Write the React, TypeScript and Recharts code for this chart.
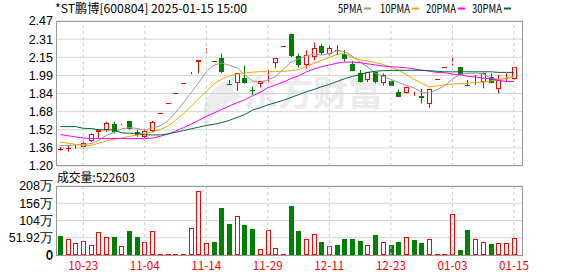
import React from "react";
import { ComposedChart, Bar, Line, XAxis, YAxis, CartesianGrid, ReferenceLine } from "recharts";

// 交易日
const dates = [
  "10-18", "10-21", "10-22", "10-23", "10-24", "10-25", "10-28", "10-29", "10-30", "10-31",
  "11-01", "11-04", "11-05", "11-06", "11-07", "11-08", "11-11", "11-12", "11-13", "11-14",
  "11-20", "11-21", "11-22", "11-25", "11-26", "11-27", "11-28", "11-29", "12-02", "12-03",
  "12-04", "12-05", "12-06", "12-09", "12-10", "12-11", "12-12", "12-13", "12-16", "12-17",
  "12-18", "12-19", "12-20", "12-23", "12-24", "12-25", "12-26", "12-27", "12-30", "12-31",
  "01-02", "01-03", "01-06", "01-07", "01-08", "01-09", "01-10", "01-13", "01-14", "01-15",
];

const openPrices = [
  1.348, 1.355, 1.362, 1.367, 1.417, 1.499, 1.511, 1.566, 1.563, 1.596,
  1.499, 1.455, 1.505, 1.666, 1.749, 1.836, 1.928, 2.016, 2.11, 2.225,
  2.12, 2.149, 1.921, 1.924, 1.974, 1.862, 1.915, 2.03, 2.099, 2.25,
  2.36, 2.167, 2.085, 2.158, 2.255, 2.184, 2.216, 2.179, 2.091, 2.011,
  1.956, 2.026, 1.924, 1.947, 1.851, 1.836, 1.815, 1.815, 1.739, 1.965,
  2.063, 2.1, 2.064, 1.909, 1.99, 1.938, 1.976, 1.874, 1.955, 1.962,
];
const highPrices = [
  1.366, 1.38, 1.382, 1.426, 1.484, 1.52, 1.587, 1.587, 1.57, 1.596,
  1.52, 1.52, 1.596, 1.666, 1.749, 1.836, 1.928, 2.024, 2.125, 2.231,
  2.12, 2.184, 1.953, 2.011, 2.079, 1.894, 1.945, 2.041, 2.143, 2.25,
  2.36, 2.184, 2.214, 2.281, 2.267, 2.255, 2.26, 2.217, 2.12, 2.041,
  2.02, 2.026, 2.011, 1.947, 1.871, 1.895, 1.851, 1.874, 1.874, 1.965,
  2.063, 2.166, 2.064, 1.953, 1.997, 2.017, 2.011, 1.997, 2.011, 2.064,
];
const lowPrices = [
  1.333, 1.325, 1.35, 1.352, 1.41, 1.44, 1.5, 1.485, 1.558, 1.52,
  1.455, 1.446, 1.494, 1.666, 1.749, 1.836, 1.928, 2.003, 2.011, 2.187,
  2.12, 2.015, 1.919, 1.857, 1.92, 1.821, 1.889, 1.933, 2.054, 2.25,
  2.152, 2.062, 2.054, 2.128, 2.173, 2.164, 2.173, 2.114, 2.03, 1.93,
  1.935, 1.924, 1.903, 1.9, 1.807, 1.836, 1.815, 1.748, 1.71, 1.965,
  2.063, 2.079, 2.0, 1.903, 1.909, 1.88, 1.924, 1.836, 1.938, 1.956,
];
const closePrices = [
  1.353, 1.36, 1.37, 1.405, 1.478, 1.511, 1.578, 1.499, 1.566, 1.528,
  1.475, 1.505, 1.587, 1.666, 1.749, 1.836, 1.928, 2.024, 2.125, 2.231,
  2.12, 2.02, 1.919, 2.011, 1.924, 1.855, 1.945, 2.041, 2.143, 2.25,
  2.167, 2.085, 2.173, 2.237, 2.193, 2.237, 2.21, 2.135, 2.032, 1.933,
  2.02, 1.938, 1.997, 1.9, 1.807, 1.895, 1.821, 1.792, 1.874, 1.965,
  2.063, 2.114, 2.0, 1.903, 1.997, 2.017, 1.924, 1.953, 1.96, 2.064,
];
// 前一交易日收盘（图外）
const priorClose = 1.37;

// 成交量（万股）
const volumes = [
  57.2, 47.2, 35.1, 42.1, 29.1, 69.2, 53.2, 54.2, 26.1, 72.2,
  54.2, 39.1, 71.2, 2, 2, 2, 2, 81.3, 192.6, 36.1,
  40.1, 141.5, 94.3, 117.4, 91.3, 79.3, 18.1, 75.2, 21.1, 2,
  148.5, 73.2, 48.2, 63.2, 40.1, 27.1, 30.1, 48.2, 48.2, 43.1,
  30.1, 60.2, 39.1, 30.1, 40.1, 53.2, 45.1, 37.1, 47.2, 2,
  2, 123.4, 15, 75.2, 47.2, 39.1, 33.1, 36.1, 36.1, 52.26,
];

const ma5 = [
  1.38, 1.38, 1.385, 1.39, 1.395, 1.425, 1.468, 1.494, 1.526, 1.536,
  1.529, 1.515, 1.532, 1.552, 1.596, 1.669, 1.753, 1.84, 1.93, 2.027,
  2.084, 2.102, 2.082, 2.06, 1.999, 1.946, 1.931, 1.955, 1.983, 2.048,
  2.11, 2.138, 2.165, 2.182, 2.171, 2.185, 2.21, 2.202, 2.161, 2.109,
  2.066, 2.012, 1.984, 1.958, 1.932, 1.907, 1.884, 1.843, 1.838, 1.869,
  1.903, 1.962, 2.003, 2.009, 2.015, 2.006, 1.968, 1.959, 1.97, 1.984,
];
const ma10 = [
  1.41, 1.4, 1.39, 1.38, 1.38, 1.4, 1.42, 1.435, 1.445, 1.46,
  1.47, 1.485, 1.5, 1.52, 1.55, 1.6, 1.66, 1.72, 1.79, 1.85,
  1.92, 1.96, 1.99, 2.005, 2.015, 2.022, 2.026, 2.026, 2.026, 2.03,
  2.035, 2.045, 2.07, 2.1, 2.125, 2.15, 2.178, 2.184, 2.15, 2.13,
  2.12, 2.105, 2.09, 2.065, 2.04, 2.0, 1.96, 1.925, 1.895, 1.9,
  1.912, 1.918, 1.922, 1.925, 1.93, 1.935, 1.945, 1.955, 1.967, 1.98,
];
const ma20 = [
  1.475, 1.465, 1.455, 1.445, 1.44, 1.44, 1.44, 1.44, 1.44, 1.44,
  1.44, 1.44, 1.445, 1.46, 1.48, 1.505, 1.535, 1.565, 1.6, 1.635,
  1.665, 1.695, 1.725, 1.755, 1.78, 1.815, 1.845, 1.885, 1.91, 1.935,
  1.965, 1.99, 2.025, 2.05, 2.07, 2.085, 2.1, 2.11, 2.11, 2.105,
  2.095, 2.085, 2.075, 2.07, 2.065, 2.06, 2.05, 2.04, 2.03, 2.02,
  2.017, 2.005, 2.0, 1.985, 1.98, 1.968, 1.965, 1.95, 1.94, 1.94,
];
const ma30 = [
  1.545, 1.545, 1.545, 1.53, 1.528, 1.518, 1.516, 1.516, 1.49, 1.487,
  1.486, 1.473, 1.472, 1.472, 1.48, 1.495, 1.51, 1.525, 1.54, 1.555,
  1.565, 1.58, 1.6, 1.625, 1.65, 1.69, 1.71, 1.735, 1.755, 1.775,
  1.8, 1.825, 1.85, 1.87, 1.895, 1.915, 1.94, 1.965, 1.985, 2.0,
  2.02, 2.03, 2.035, 2.038, 2.038, 2.038, 2.038, 2.038, 2.035, 2.03,
  2.025, 2.025, 2.025, 2.025, 2.025, 2.025, 2.025, 2.02, 2.02, 2.02,
];

const priceMin = 1.2;
const priceMax = 2.47;
const priceTickLabels = ["1.20", "1.36", "1.52", "1.68", "1.84", "1.99", "2.15", "2.31", "2.47"];
const volumeMax = 207.68;
const volumeTickLabels = ["0", "51.92万", "104万", "156万", "208万"];
const labelDates = ["10-23", "11-04", "11-14", "11-29", "12-11", "12-23", "01-03", "01-15"];

const RED = "#ff0000";
const GREEN = "#008000";
const GRID = "#d4d4d4";
const FONT = "'Noto Sans CJK SC', sans-serif";
const NUM_FONT = "'Liberation Sans', Arial, sans-serif";

const rows = dates.map((date, i) => ({
  idx: i + 1,
  date,
  open: openPrices[i],
  high: highPrices[i],
  low: lowPrices[i],
  close: closePrices[i],
  prev: i === 0 ? priorClose : closePrices[i - 1],
  range: [lowPrices[i], highPrices[i]],
  vol: volumes[i],
  ma5: ma5[i],
  ma10: ma10[i],
  ma20: ma20[i],
  ma30: ma30[i],
}));

const priceStep = (priceMax - priceMin) / (priceTickLabels.length - 1);
const priceTicks = priceTickLabels.map((_, i) => priceMin + priceStep * i);
const volumeStep = volumeMax / (volumeTickLabels.length - 1);
const volumeTicks = volumeTickLabels.map((_, i) => volumeStep * i);
const labelIdx = labelDates.map((d) => dates.indexOf(d) + 1);
const xDomain = [0.45, 61.05];

const priceLabel = (v: number) => priceTickLabels[Math.round((v - priceMin) / priceStep)] ?? "";
const volumeLabel = (v: number) => volumeTickLabels[Math.round(v / volumeStep)] ?? "";

function Candle(props: any) {
  const { x, y, width, height, payload } = props;
  const { open, high, low, close, prev } = payload;
  const span = high - low;
  const py = (p: number) => (span > 0 ? y + ((high - p) / span) * height : y);
  const up = close > open || (close === open && close >= prev);
  const color = up ? RED : GREEN;
  const cx = Math.round(x + width / 2) + 0.5;
  const yH = py(high);
  const yL = py(low);
  const t = Math.round(Math.min(py(open), py(close)));
  const b = Math.round(Math.max(py(open), py(close)));
  const wick = <line x1={cx} x2={cx} y1={yH} y2={yL} stroke={color} strokeWidth={1} />;
  if (b - t < 1) {
    return (
      <g>
        {wick}
        <line x1={cx - 2.5} x2={cx + 2.5} y1={t + 0.5} y2={t + 0.5} stroke={color} strokeWidth={1} />
      </g>
    );
  }
  if (up) {
    return (
      <g>
        {wick}
        <rect x={cx - 2} y={t + 0.5} width={4} height={b - t - 1} fill="#fff" stroke={color} strokeWidth={1} />
      </g>
    );
  }
  return (
    <g>
      {wick}
      <rect x={cx - 2.5} y={t} width={5} height={b - t} fill={color} />
    </g>
  );
}

function VolBar(props: any) {
  const { x, y, width, height, payload } = props;
  const up = payload.close >= payload.prev;
  const cx = Math.round(x + width / 2) + 0.5;
  const t = Math.round(y);
  const b = Math.round(y + height);
  if (up) {
    return <rect x={cx - 2} y={Math.min(t, b - 1) + 0.5} width={4} height={Math.max(b - t - 1, 0.01)} fill="#fff" stroke={RED} strokeWidth={1} />;
  }
  return <rect x={cx - 2.5} y={t} width={5} height={b - t} fill={GREEN} />;
}

function DateTick(props: any) {
  const { x, y, payload } = props;
  const label = dates[Math.round(payload.value) - 1];
  return (
    <text x={x} y={y + 15} textAnchor="middle" fontSize={12} fontFamily={FONT} fill={RED} textLength={label.length * 6} lengthAdjust="spacingAndGlyphs">
      {label}
    </text>
  );
}

const axisTick = { fontSize: 12.5, fontFamily: NUM_FONT, fill: "#000" };

const legend = [
  { name: "5PMA", color: "#999999", x: 338 },
  { name: "10PMA", color: "#f5a300", x: 380 },
  { name: "20PMA", color: "#ff00ff", x: 426 },
  { name: "30PMA", color: "#006b35", x: 472 },
];

export default function App() {
  return (
    <div style={{ position: "fixed", left: 0, top: 0, width: 578, height: 276, background: "#fff", overflow: "hidden" }}>
      <svg width={578} height={276} style={{ position: "absolute", left: 0, top: 0 }}>
        <path d="M236 77 C 210 85, 197 105, 206 129 C 212 113, 225 101, 244 97 C 231 93, 229 85, 236 77 Z" fill="#ececf0" />
        <text x={243} y={106} fontSize={35} fontWeight="bold" fontFamily={FONT} fill="#ebebef">
          东方财富
        </text>
      </svg>

      <div style={{ position: "absolute", left: 0, top: 0 }}>
        <ComposedChart width={578} height={180} data={rows} margin={{ top: 21, right: 56, bottom: 14, left: 0 }}>
          <CartesianGrid vertical={false} stroke={GRID} horizontalValues={priceTicks} />
          <XAxis dataKey="idx" type="number" domain={xDomain} allowDataOverflow hide ticks={labelIdx} />
          <YAxis
            domain={[priceMin, priceMax]}
            ticks={priceTicks}
            allowDataOverflow
            width={56}
            axisLine={false}
            tickLine={false}
            tickSize={1}
            tickMargin={2}
            tick={axisTick}
            tickFormatter={priceLabel}
            interval={0}
          />
          {labelIdx.map((i) => (
            <ReferenceLine key={i} x={i} stroke="#cccccc" strokeDasharray="3 3" />
          ))}
          <Bar dataKey="range" barSize={5} shape={<Candle />} isAnimationActive={false} />
          <Line dataKey="ma5" stroke="#999999" strokeWidth={1} dot={false} isAnimationActive={false} />
          <Line dataKey="ma10" stroke="#f5a300" strokeWidth={1} dot={false} isAnimationActive={false} />
          <Line dataKey="ma20" stroke="#ff00ff" strokeWidth={1} dot={false} isAnimationActive={false} />
          <Line dataKey="ma30" stroke="#006b35" strokeWidth={1} dot={false} isAnimationActive={false} />
        </ComposedChart>
      </div>

      <div style={{ position: "absolute", left: 0, top: 166 }}>
        <ComposedChart width={578} height={110} data={rows} margin={{ top: 20, right: 56, bottom: 0, left: 0 }}>
          <CartesianGrid vertical={false} stroke={GRID} horizontalValues={volumeTicks} />
          <XAxis
            dataKey="idx"
            type="number"
            domain={xDomain}
            allowDataOverflow
            ticks={labelIdx}
            interval={0}
            height={21}
            axisLine={false}
            tickLine={false}
            tickSize={0}
            tickMargin={0}
            tick={<DateTick />}
          />
          <YAxis
            domain={[0, volumeMax]}
            ticks={volumeTicks}
            allowDataOverflow
            width={56}
            axisLine={false}
            tickLine={false}
            tickSize={1}
            tickMargin={2}
            tick={axisTick}
            tickFormatter={volumeLabel}
            interval={0}
          />
          {labelIdx.map((i) => (
            <ReferenceLine key={i} x={i} stroke="#cccccc" strokeDasharray="3 3" />
          ))}
          <Bar dataKey="vol" barSize={5} shape={<VolBar />} isAnimationActive={false} />
        </ComposedChart>
      </div>

      <svg width={578} height={276} style={{ position: "absolute", left: 0, top: 0, pointerEvents: "none" }}>
        <rect x={56.5} y={21.5} width={466} height={144} fill="none" stroke="#999" strokeWidth={1} />
        <rect x={56.5} y={186.5} width={466} height={69} fill="none" stroke="#999" strokeWidth={1} />
        {/* 成交量轴底部 0 刻度 */}
        <text x={53} y={259.5} textAnchor="end" fontSize={12.5} fontFamily={NUM_FONT} fill="#000">
          {volumeTickLabels[0]}
        </text>
        <text x={55} y={13} fontSize={12} fontFamily={FONT} fill="#000" textLength={192} lengthAdjust="spacingAndGlyphs">
          *ST鹏博[600804] 2025-01-15 15:00
        </text>
        {legend.map((l) => (
          <g key={l.name}>
            <text x={l.x} y={13} fontSize={12} fontFamily={FONT} fill="#000" textLength={l.name.length * 6} lengthAdjust="spacingAndGlyphs">
              {l.name}
            </text>
            <line x1={l.x + l.name.length * 6 + 2} x2={l.x + l.name.length * 6 + 9} y1={8.5} y2={8.5} stroke={l.color} strokeWidth={2} />
          </g>
        ))}
        <text x={57} y={182} fontSize={12} fontFamily={FONT} fill="#000" textLength={78} lengthAdjust="spacingAndGlyphs">
          成交量:522603
        </text>
      </svg>
    </div>
  );
}
